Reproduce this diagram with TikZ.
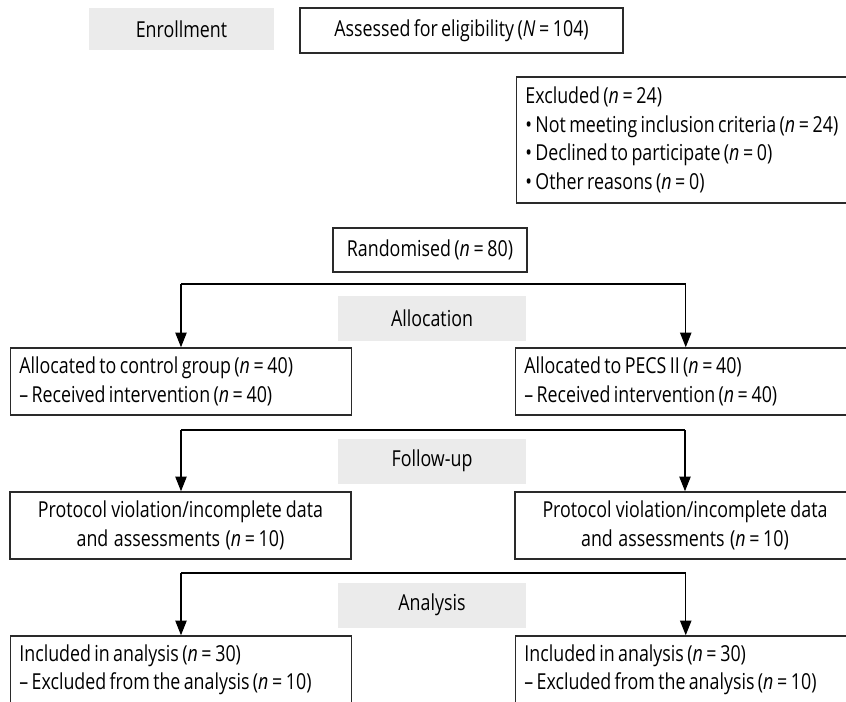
\documentclass[tikz,border=0pt]{standalone}
\usepackage{fontspec}
\setmainfont{Open Sans}[FakeStretch=0.81, WordSpace=0.72]
\usetikzlibrary{arrows.meta}
\definecolor{stagegray}{HTML}{EBEBEB}
\definecolor{boxline}{HTML}{2A2A2A}
\newcommand{\nv}[2][n]{(\textit{#1}\,=\,#2)}
\begin{document}
\begin{tikzpicture}[x=0.75pt,y=-0.75pt,
  font=\fontsize{16.5}{21.4}\selectfont,
  execute at begin node={\spaceskip=0pt\xspaceskip=0pt\relax},
  box/.style={draw=boxline, line width=1.1pt, inner ysep=0pt, inner xsep=6.5pt, align=center},
  lbox/.style={box, align=left, text width=#1, anchor=west},
  stage/.style={fill=stagegray, inner sep=0pt},
  conn/.style={line width=0.85pt, -{Triangle[length=11pt,width=8.5pt,fill=black]}}]
\useasboundingbox (0,0) rectangle (846,702);
\clip (0,0) rectangle (846,702);

% stage labels
\node[stage, minimum width=138.75pt, minimum height=31.5pt] (enroll) at (181.5,29) {Enrollment};
\node[stage, minimum width=141pt, minimum height=33.75pt] (allocS) at (432,318.5) {Allocation};
\node[stage, minimum width=141pt, minimum height=33.75pt] (followS) at (432,461) {Follow-up};
\node[stage, minimum width=141pt, minimum height=33.75pt] (analysisS) at (432,605) {Analysis};

% top boxes
\node[box, minimum width=242.25pt, minimum height=33.75pt] (assess) at (461.5,30.5) {Assessed for eligibility \nv[N]{104}};
\node[lbox=300pt, minimum height=94.5pt] (excl) at (516,140) {Excluded \nv{24}\\
\textbullet\ Not meeting inclusion criteria \nv{24}\\
\textbullet\ Declined to participate \nv{0}\\
\textbullet\ Other reasons \nv{0}};
\node[box, minimum width=145.5pt, minimum height=33pt] (rand) at (430,250) {Randomised \nv{80}};

% allocation
\node[lbox=242.75pt, minimum height=50.25pt] (L1) at (10,381.5) {Allocated to control group \nv{40}\\ -- Received intervention \nv{40}};
\node[lbox=242pt, minimum height=50.25pt] (R1) at (515,381.5) {Allocated to PECS II \nv{40}\\ -- Received intervention \nv{40}};

% follow-up
\node[box, text width=242.75pt, minimum height=50.25pt] (L2) at (180.5,525.5) {Protocol violation/incomplete data\\ and assessments \nv{10}};
\node[box, text width=242pt, minimum height=50.25pt] (R2) at (685,525.5) {Protocol violation/incomplete data\\ and assessments \nv{10}};

% analysis
\node[lbox=242.75pt, minimum height=51pt] (L3) at (10,670) {Included in analysis \nv{30}\\ -- Excluded from the analysis \nv{10}};
\node[lbox=242pt, minimum height=51pt] (R3) at (515,670) {Included in analysis \nv{30}\\ -- Excluded from the analysis \nv{10}};

% branch connectors
\coordinate (b1) at (181,284);
\coordinate (b2) at (181,430);
\coordinate (b3) at (181,573);
\draw[line width=0.85pt] (b1) -- (b1 -| R1.north);
\draw[line width=0.85pt] (b2) -- (b2 -| R2.north);
\draw[line width=0.85pt] (b3) -- (b3 -| R3.north);
\draw[conn] (b1) -- (b1 |- L1.north);
\draw[conn] (b2) -- (b2 |- L2.north);
\draw[conn] (b3) -- (b3 |- L3.north);
\draw[conn] (b1 -| R1.north) -- (R1.north);
\draw[conn] (b2 -| R2.north) -- (R2.north);
\draw[conn] (b3 -| R3.north) -- (R3.north);
\end{tikzpicture}
\end{document}
